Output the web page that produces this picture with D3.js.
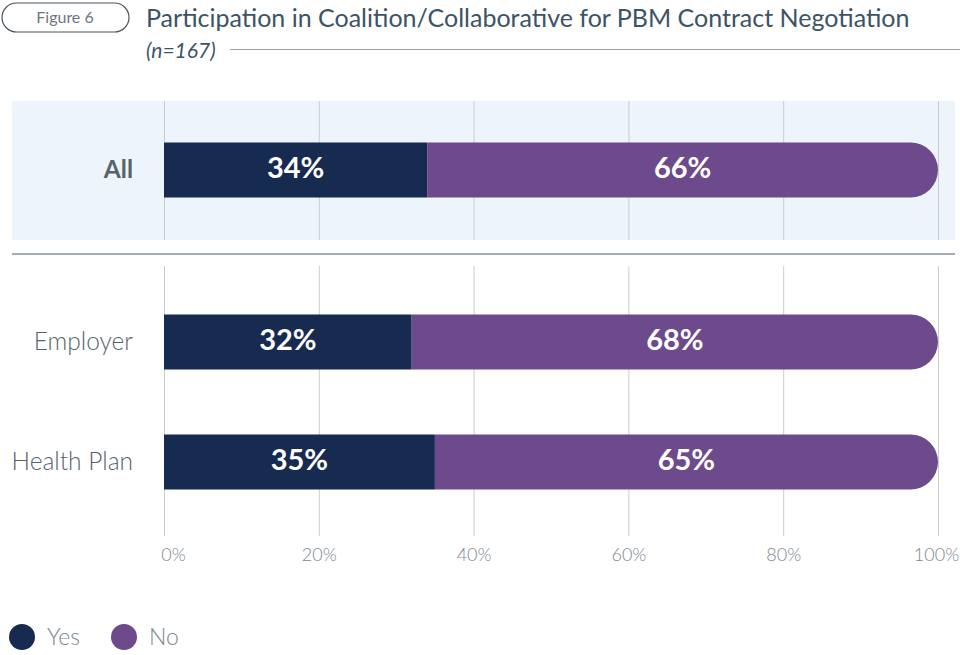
<!DOCTYPE html>
<html>
<head>
<meta charset="utf-8">
<script src="https://cdn.jsdelivr.net/npm/d3@7"></script>
<style>
  body { margin: 0; background: #fff; }
  svg text { font-family: "Lato", "Noto Sans", sans-serif; }
</style>
</head>
<body>
<div id="chart"></div>
<script>
var categories = ["All", "Employer", "Health Plan"],
    yesValues = [34, 32, 35],
    noValues = [66, 68, 65],
    tickValues = [0, 20, 40, 60, 80, 100],
    seriesNames = ["Yes", "No"];

var width = 960,
    height = 655,
    colors = ["#172a4f", "#6c4a8b"];

var svg = d3.select("#chart").append("svg")
    .attr("width", width)
    .attr("height", height);

var x = d3.scaleLinear()
    .domain([0, 100])
    .range([164, 938]);

// row centres: first row sits in the shaded "All" panel
var y = d3.scaleOrdinal()
    .domain(categories)
    .range([170, 342, 462]);

var barH = 55;

// header
svg.append("rect")
  .attr("x", 2).attr("y", 3)
  .attr("width", 127).attr("height", 29)
  .attr("rx", 14.5)
  .attr("fill", "none")
  .attr("stroke", "#4a5560")
  .attr("stroke-width", 1.2);

svg.append("text")
  .attr("x", 65).attr("y", 23)
  .attr("text-anchor", "middle")
  .attr("fill", "#6b7680")
  .style("font-size", "16px")
  .text("Figure 6");

svg.append("text")
  .attr("x", 146).attr("y", 27)
  .attr("fill", "#3d5366")
  .style("font-size", "25px")
  .text("Participation in Coalition/Collaborative for PBM Contract Negotiation");

svg.append("text")
  .attr("x", 146).attr("y", 58)
  .attr("fill", "#3d5366")
  .style("font-size", "21px")
  .style("font-style", "italic")
  .text("(n=167)");

svg.append("line")
  .attr("x1", 230).attr("x2", 960)
  .attr("y1", 49.5).attr("y2", 49.5)
  .attr("stroke", "#98a2ad")
  .attr("stroke-width", 1);

// shaded panel for "All"
svg.append("rect")
  .attr("x", 12).attr("y", 101)
  .attr("width", 943).attr("height", 139)
  .attr("fill", "#edf4fb");

svg.append("line")
  .attr("x1", 12).attr("x2", 955)
  .attr("y1", 254).attr("y2", 254)
  .attr("stroke", "#a3acb7")
  .attr("stroke-width", 2);

// grid lines
var grid = svg.append("g");
grid.selectAll("line.top")
  .data(tickValues)
  .enter().append("line")
  .attr("class", "top")
  .attr("x1", function(d) { return x(d) + 0.5; })
  .attr("x2", function(d) { return x(d) + 0.5; })
  .attr("y1", 101).attr("y2", 240)
  .attr("stroke", "#cccccc");

grid.selectAll("line.bottom")
  .data(tickValues)
  .enter().append("line")
  .attr("class", "bottom")
  .attr("x1", function(d) { return x(d) + 0.5; })
  .attr("x2", function(d) { return x(d) + 0.5; })
  .attr("y1", 266).attr("y2", 536)
  .attr("stroke", "#cccccc");

// axis labels
var xAxis = d3.axisBottom(x)
    .tickValues(tickValues)
    .tickSize(0)
    .tickPadding(0)
    .tickFormat(function(d) { return d + "%"; });

var axisG = svg.append("g")
  .attr("transform", "translate(0,548)")
  .call(xAxis);
axisG.select(".domain").remove();
axisG.selectAll("text")
  .attr("fill", "#7c8790")
  .attr("dx", function(d) { return d === 0 ? 9 : (d === 100 ? -2 : 0); })
  .style("font-size", "18px")
  .style("font-family", "Lato, 'Noto Sans', sans-serif")
  .style("font-weight", 300);

// bars
var rows = categories.map(function(c, i) {
  return { cat: c, yes: yesValues[i], no: noValues[i] };
});

var bars = svg.append("g").selectAll("g")
  .data(rows)
  .enter().append("g");

bars.append("rect")
  .attr("x", x(0))
  .attr("y", function(d) { return y(d.cat) - barH / 2; })
  .attr("width", function(d) { return x(d.yes) - x(0); })
  .attr("height", barH)
  .attr("fill", colors[0]);

function roundRight(x0, x1, y0, h) {
  var r = h / 2;
  return "M" + x0 + "," + y0 +
    "H" + (x1 - r) +
    "A" + r + "," + r + " 0 0 1 " + (x1 - r) + "," + (y0 + h) +
    "H" + x0 + "Z";
}

bars.append("path")
  .attr("d", function(d) {
    return roundRight(x(d.yes), x(d.yes + d.no), y(d.cat) - barH / 2, barH);
  })
  .attr("fill", colors[1]);

bars.append("text")
  .attr("x", function(d) { return (x(0) + x(d.yes)) / 2; })
  .attr("y", function(d) { return y(d.cat) + 8; })
  .attr("text-anchor", "middle")
  .attr("fill", "#fff")
  .style("font-size", "29px")
  .style("font-weight", "bold")
  .text(function(d) { return d.yes + "%"; });

bars.append("text")
  .attr("x", function(d) { return (x(d.yes) + x(d.yes + d.no)) / 2; })
  .attr("y", function(d) { return y(d.cat) + 8; })
  .attr("text-anchor", "middle")
  .attr("fill", "#fff")
  .style("font-size", "29px")
  .style("font-weight", "bold")
  .text(function(d) { return d.no + "%"; });

// category labels
bars.append("text")
  .attr("x", 133)
  .attr("y", function(d) { return y(d.cat) + 8; })
  .attr("text-anchor", "end")
  .attr("fill", "#56636e")
  .style("font-size", "24.5px")
  .style("font-weight", function(d) { return d.cat === "All" ? "bold" : 300; })
  .text(function(d) { return d.cat; });

// legend
var legend = svg.append("g").selectAll("g")
  .data(seriesNames)
  .enter().append("g")
  .attr("transform", function(d, i) { return "translate(" + (22 + i * 102) + ",637)"; });

legend.append("circle")
  .attr("r", 13)
  .attr("fill", function(d, i) { return colors[i]; });

legend.append("text")
  .attr("x", 25)
  .attr("y", 8)
  .attr("fill", "#7c8790")
  .style("font-size", "23px")
  .style("font-weight", 300)
  .text(function(d) { return d; });
</script>
</body>
</html>
